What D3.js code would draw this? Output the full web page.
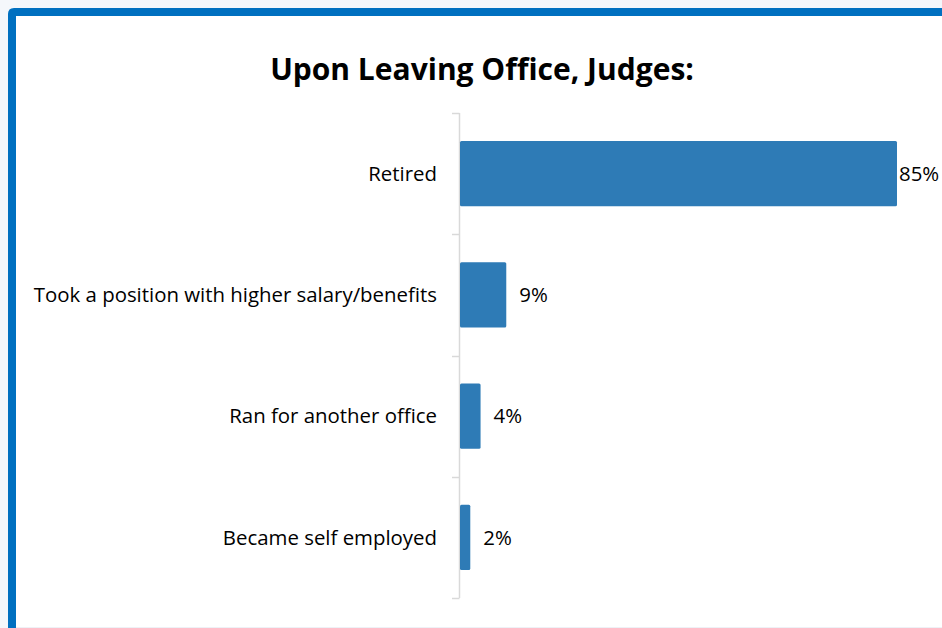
<!DOCTYPE html>
<html>
<head>
<meta charset="utf-8">
<script src="https://cdn.jsdelivr.net/npm/d3@7"></script>
<style>
  html, body { margin: 0; padding: 0; background: #f4f7fb; }
  svg { display: block; }
</style>
</head>
<body>
<svg id="chart" width="942" height="628"></svg>
<script>
// Outcomes for judges after leaving office (percent)
const categories = [
  "Retired",
  "Took a position with higher salary/benefits",
  "Ran for another office",
  "Became self employed"
];
const values = [85, 9, 4, 2];
const valueLabels = ["85%", "9%", "4%", "2%"];
const title = "Upon Leaving Office, Judges:";

const svg = d3.select("#chart");
const W = 942, H = 628;
const font = "'Open Sans', Lato, sans-serif";

// Panel with blue frame on top and left
svg.append("rect").attr("x", 0).attr("y", 0).attr("width", W).attr("height", H).attr("fill", "#f4f7fb");
svg.append("path")
  .attr("d", "M8,628 L8,14 Q8,8 14,8 L942,8 L942,628 Z")
  .attr("fill", "#0070c0");
svg.append("rect").attr("x", 16).attr("y", 16).attr("width", W - 16).attr("height", 611).attr("fill", "#ffffff");
svg.append("line").attr("x1", 16).attr("x2", W).attr("y1", 627.5).attr("y2", 627.5)
  .attr("stroke", "#eef1f6").attr("stroke-width", 1);

// Title
svg.append("text")
  .attr("x", 482).attr("y", 80)
  .attr("text-anchor", "middle")
  .attr("font-family", font)
  .attr("font-weight", "bold")
  .attr("font-size", 30)
  .attr("fill", "#000")
  .text(title);

const axisX = 459, plotTop = 113, plotBottom = 598;
const x = d3.scaleLinear().domain([0, 85]).range([axisX, 896]);
const y = d3.scaleBand().domain(categories).range([plotTop, plotBottom]).paddingInner(0.46).paddingOuter(0.23);

// Category axis with band boundary ticks
const g = svg.append("g");
g.append("line").attr("x1", axisX + 0.5).attr("x2", axisX + 0.5).attr("y1", plotTop).attr("y2", plotBottom)
  .attr("stroke", "#d9d9d9").attr("stroke-width", 1.5);
const step = (plotBottom - plotTop) / categories.length;
const bounds = d3.range(categories.length + 1).map(i => plotTop + i * step);
g.selectAll("line.tick").data(bounds).join("line")
  .attr("class", "tick")
  .attr("x1", axisX - 7).attr("x2", axisX + 0.5)
  .attr("y1", d => Math.round(d) + 0.5).attr("y2", d => Math.round(d) + 0.5)
  .attr("stroke", "#d9d9d9").attr("stroke-width", 1.5);

g.selectAll("text.cat").data(categories).join("text")
  .attr("class", "cat")
  .attr("x", 437)
  .attr("y", d => y(d) + y.bandwidth() / 2)
  .attr("dy", "0.35em")
  .attr("text-anchor", "end")
  .attr("font-family", font)
  .attr("font-size", 20.4)
  .attr("fill", "#000")
  .text(d => d);

// Bars
svg.selectAll("rect.bar").data(values).join("rect")
  .attr("class", "bar")
  .attr("x", x(0) + 1)
  .attr("y", (d, i) => y(categories[i]))
  .attr("width", d => x(d) - x(0))
  .attr("height", y.bandwidth())
  .attr("rx", 1.5)
  .attr("fill", "#2e7bb6");

// Value labels
svg.selectAll("text.val").data(values).join("text")
  .attr("class", "val")
  .attr("x", d => Math.min(x(d) + 14, 899))
  .attr("y", (d, i) => y(categories[i]) + y.bandwidth() / 2)
  .attr("dy", "0.35em")
  .attr("font-family", font)
  .attr("font-size", 20.4)
  .attr("fill", "#000")
  .text((d, i) => valueLabels[i]);
</script>
</body>
</html>
